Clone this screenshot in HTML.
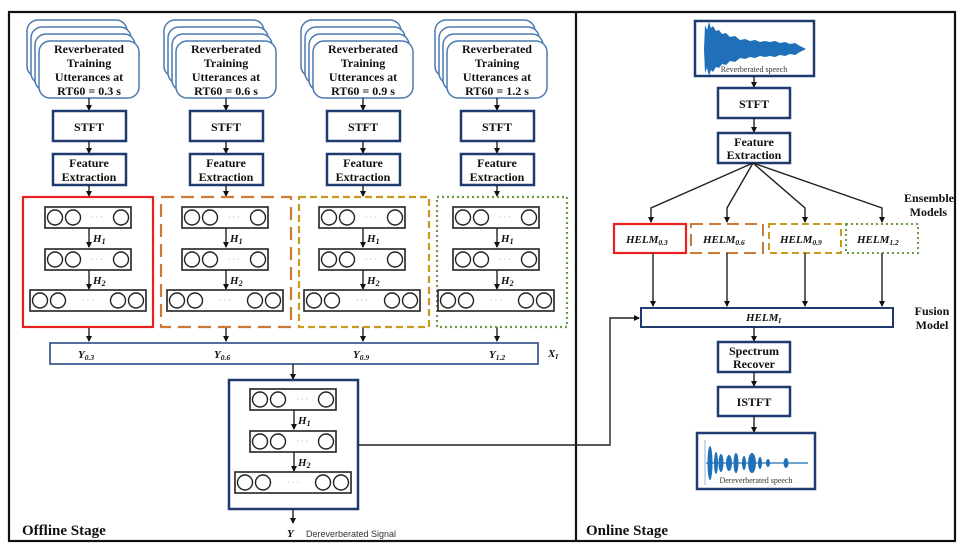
<!DOCTYPE html>
<html><head><meta charset="utf-8"><style>
html,body{margin:0;padding:0;background:#fff;width:966px;height:550px;overflow:hidden}
svg{display:block}
.b{font-family:"Liberation Serif",serif;font-weight:bold;font-size:12px;fill:#111;text-anchor:middle}
.m{font-family:"Liberation Serif",serif;font-weight:bold;font-style:italic;font-size:11px;fill:#111}
.bx{fill:#fff;stroke:#1f3a6e;stroke-width:2.5}
.ly{fill:#fff;stroke:#222;stroke-width:1.6}
.c{fill:#fff;stroke:#222;stroke-width:1.4}
.ln{stroke:#222;stroke-width:1.4;fill:none}
</style></head><body>
<svg width="966" height="550" viewBox="0 0 966 550" xmlns="http://www.w3.org/2000/svg">
<defs>
<marker id="a" markerWidth="6" markerHeight="6" refX="5" refY="3" orient="auto" markerUnits="userSpaceOnUse"><path d="M0,0 L6,3 L0,6 z" fill="#111"/></marker>
<g id="net">
 <rect class="ly" x="45" y="207" width="86" height="21"/>
 <circle class="c" cx="55" cy="217.5" r="7.5"/><circle class="c" cx="73" cy="217.5" r="7.5"/><circle class="c" cx="121" cy="217.5" r="7.5"/>
 <text x="97" y="220" font-size="8" fill="#999" text-anchor="middle">· · ·</text>
 <line class="ln" x1="89" y1="228" x2="89" y2="247" marker-end="url(#a)"/>
 <rect class="ly" x="45" y="249" width="86" height="21"/>
 <circle class="c" cx="55" cy="259.5" r="7.5"/><circle class="c" cx="73" cy="259.5" r="7.5"/><circle class="c" cx="121" cy="259.5" r="7.5"/>
 <text x="97" y="262" font-size="8" fill="#999" text-anchor="middle">· · ·</text>
 <line class="ln" x1="89" y1="270" x2="89" y2="289" marker-end="url(#a)"/>
 <rect class="ly" x="30" y="290" width="116" height="21"/>
 <circle class="c" cx="40" cy="300.5" r="7.5"/><circle class="c" cx="58" cy="300.5" r="7.5"/><circle class="c" cx="118" cy="300.5" r="7.5"/><circle class="c" cx="136" cy="300.5" r="7.5"/>
 <text x="88" y="303" font-size="8" fill="#999" text-anchor="middle">· · ·</text>
</g>
<g id="stk">
 <rect x="27" y="20" width="100" height="57" rx="11" fill="#fff" stroke="#4a7ab0" stroke-width="1.5"/>
 <rect x="31" y="27" width="100" height="57" rx="11" fill="#fff" stroke="#4a7ab0" stroke-width="1.5"/>
 <rect x="35" y="34" width="100" height="57" rx="11" fill="#fff" stroke="#4a7ab0" stroke-width="1.5"/>
 <rect x="39" y="41" width="100" height="57" rx="11" fill="#fff" stroke="#4a7ab0" stroke-width="1.5"/>
 <line class="ln" x1="89" y1="98" x2="89" y2="110" marker-end="url(#a)"/>
 <rect class="bx" x="53" y="111" width="73" height="30"/>
 <line class="ln" x1="89" y1="141" x2="89" y2="153" marker-end="url(#a)"/>
 <rect class="bx" x="53" y="154" width="73" height="31"/>
 <line class="ln" x1="89" y1="185" x2="89" y2="196" marker-end="url(#a)"/>
 <line class="ln" x1="89" y1="327" x2="89" y2="341" marker-end="url(#a)"/>
</g>
</defs>

<rect x="9" y="12" width="946" height="529" fill="none" stroke="#111" stroke-width="2.2"/>
<line x1="576" y1="12" x2="576" y2="541" stroke="#111" stroke-width="2.2"/>

<use href="#stk"/><use href="#stk" x="137"/><use href="#stk" x="274"/><use href="#stk" x="408"/>
<g class="b">
<text x="89" y="53">Reverberated</text><text x="89" y="67">Training</text><text x="89" y="81">Utterances at</text><text x="89" y="95">RT60 = 0.3 s</text>
<text x="226" y="53">Reverberated</text><text x="226" y="67">Training</text><text x="226" y="81">Utterances at</text><text x="226" y="95">RT60 = 0.6 s</text>
<text x="363" y="53">Reverberated</text><text x="363" y="67">Training</text><text x="363" y="81">Utterances at</text><text x="363" y="95">RT60 = 0.9 s</text>
<text x="497" y="53">Reverberated</text><text x="497" y="67">Training</text><text x="497" y="81">Utterances at</text><text x="497" y="95">RT60 = 1.2 s</text>
<text x="89" y="131">STFT</text><text x="226" y="131">STFT</text><text x="363" y="131">STFT</text><text x="497" y="131">STFT</text>
<text x="89" y="167">Feature</text><text x="89" y="181">Extraction</text>
<text x="226" y="167">Feature</text><text x="226" y="181">Extraction</text>
<text x="363" y="167">Feature</text><text x="363" y="181">Extraction</text>
<text x="497" y="167">Feature</text><text x="497" y="181">Extraction</text>
</g>

<rect x="23" y="197" width="130" height="130" fill="none" stroke="#e8201f" stroke-width="2.2"/>
<rect x="161" y="197" width="130" height="130" fill="none" stroke="#cf7a34" stroke-width="2.2" stroke-dasharray="13,7"/>
<rect x="299" y="197" width="130" height="130" fill="none" stroke="#c99a1d" stroke-width="2.2" stroke-dasharray="7,4"/>
<rect x="437" y="197" width="130" height="130" fill="none" stroke="#6a9a45" stroke-width="2.2" stroke-dasharray="2,3"/>
<use href="#net"/><use href="#net" x="137"/><use href="#net" x="274"/><use href="#net" x="408"/>
<g class="m">
<text x="93" y="242">H<tspan font-size="8" dy="2">1</tspan></text><text x="93" y="284">H<tspan font-size="8" dy="2">2</tspan></text>
<text x="230" y="242">H<tspan font-size="8" dy="2">1</tspan></text><text x="230" y="284">H<tspan font-size="8" dy="2">2</tspan></text>
<text x="367" y="242">H<tspan font-size="8" dy="2">1</tspan></text><text x="367" y="284">H<tspan font-size="8" dy="2">2</tspan></text>
<text x="501" y="242">H<tspan font-size="8" dy="2">1</tspan></text><text x="501" y="284">H<tspan font-size="8" dy="2">2</tspan></text>
</g>

<rect x="50" y="343" width="488" height="21" fill="#fff" stroke="#2a4a86" stroke-width="1.6"/>
<g class="m">
<text x="78" y="358">Y<tspan font-size="7.5" dy="2">0.3</tspan></text>
<text x="214" y="358">Y<tspan font-size="7.5" dy="2">0.6</tspan></text>
<text x="353" y="358">Y<tspan font-size="7.5" dy="2">0.9</tspan></text>
<text x="489" y="358">Y<tspan font-size="7.5" dy="2">1.2</tspan></text>
<text x="548" y="357">X<tspan font-size="7" dy="2">I</tspan></text>
</g>
<line class="ln" x1="293" y1="364" x2="293" y2="379" marker-end="url(#a)"/>

<rect class="bx" x="229" y="380" width="129" height="129"/>
<g transform="translate(205,182)"><use href="#net"/></g>
<g class="m">
<text x="298" y="424">H<tspan font-size="8" dy="2">1</tspan></text><text x="298" y="466">H<tspan font-size="8" dy="2">2</tspan></text>
<text x="287" y="537">Y</text>
</g>
<line class="ln" x1="293" y1="509" x2="293" y2="523" marker-end="url(#a)"/>
<text x="306" y="537" font-family="Liberation Sans,sans-serif" font-size="9" fill="#333">Dereverberated Signal</text>
<polyline class="ln" points="358,445 610,445 610,318 639,318" marker-end="url(#a)"/>

<text x="22" y="535" font-family="Liberation Serif,serif" font-weight="bold" font-size="15" fill="#111">Offline Stage</text>
<text x="586" y="535" font-family="Liberation Serif,serif" font-weight="bold" font-size="15" fill="#111">Online Stage</text>

<!-- online -->
<rect class="bx" x="695" y="21" width="119" height="55"/>
<path d="M704,49 L705,25 L707,30 L709,22 L711,28 L713,26 L716,31 L719,30 L722,34 L726,33 L730,37 L735,36 L740,40 L745,39 L750,41 L755,40 L760,42 L765,41 L770,42 L775,41 L780,43 L785,42 L790,44 L795,43 L800,46 L806,49 L800,52 L795,55 L790,54 L785,56 L780,55 L775,57 L770,56 L765,57 L760,56 L755,58 L750,57 L745,59 L740,58 L735,62 L730,61 L726,65 L722,64 L719,68 L716,67 L713,72 L711,70 L709,76 L707,68 L705,73 Z" fill="#1f70b8"/>
<text x="754" y="72" font-family="Liberation Serif,serif" font-size="8" fill="#333" text-anchor="middle">Reverberated speech</text>
<line class="ln" x1="754" y1="76" x2="754" y2="87" marker-end="url(#a)"/>
<rect class="bx" x="718" y="88" width="72" height="30"/>
<line class="ln" x1="754" y1="118" x2="754" y2="132" marker-end="url(#a)"/>
<rect class="bx" x="718" y="133" width="72" height="30"/>
<polyline class="ln" points="753,163 651,208 651,222" marker-end="url(#a)"/>
<polyline class="ln" points="753,163 727,208 727,222" marker-end="url(#a)"/>
<polyline class="ln" points="753,163 805,208 805,222" marker-end="url(#a)"/>
<polyline class="ln" points="753,163 882,208 882,222" marker-end="url(#a)"/>
<text x="954" y="202" class="b" style="text-anchor:end">Ensemble</text>
<text x="947" y="216" class="b" style="text-anchor:end">Models</text>

<rect x="614" y="224" width="72" height="29" fill="#fff" stroke="#e8201f" stroke-width="2.2"/>
<rect x="691" y="224" width="72" height="29" fill="#fff" stroke="#cf7a34" stroke-width="2" stroke-dasharray="12,6"/>
<rect x="769" y="224" width="72" height="29" fill="#fff" stroke="#c99a1d" stroke-width="2" stroke-dasharray="7,4"/>
<rect x="846" y="224" width="72" height="29" fill="#fff" stroke="#6a9a45" stroke-width="2" stroke-dasharray="2,3"/>
<g class="m">
<text x="626" y="243">HELM<tspan font-size="7.5" dy="2">0.3</tspan></text>
<text x="703" y="243">HELM<tspan font-size="7.5" dy="2">0.6</tspan></text>
<text x="780" y="243">HELM<tspan font-size="7.5" dy="2">0.9</tspan></text>
<text x="857" y="243">HELM<tspan font-size="7.5" dy="2">1.2</tspan></text>
</g>
<line class="ln" x1="653" y1="253" x2="653" y2="306" marker-end="url(#a)"/>
<line class="ln" x1="727" y1="253" x2="727" y2="306" marker-end="url(#a)"/>
<line class="ln" x1="805" y1="253" x2="805" y2="306" marker-end="url(#a)"/>
<line class="ln" x1="882" y1="253" x2="882" y2="306" marker-end="url(#a)"/>
<rect x="641" y="308" width="252" height="19" fill="#fff" stroke="#1f3a6e" stroke-width="2"/>
<text x="746" y="321" class="m">HELM<tspan font-size="7" dy="2">I</tspan></text>
<text x="932" y="315" class="b">Fusion</text><text x="932" y="329" class="b">Model</text>
<line class="ln" x1="754" y1="327" x2="754" y2="341" marker-end="url(#a)"/>
<rect class="bx" x="718" y="342" width="72" height="30"/>
<line class="ln" x1="754" y1="372" x2="754" y2="386" marker-end="url(#a)"/>
<rect class="bx" x="718" y="387" width="72" height="29"/>
<line class="ln" x1="754" y1="416" x2="754" y2="432" marker-end="url(#a)"/>
<rect class="bx" x="697" y="433" width="118" height="56"/>
<g class="b"><text x="754" y="108">STFT</text><text x="754" y="146">Feature</text><text x="754" y="159">Extraction</text>
<text x="754" y="355">Spectrum</text><text x="754" y="368">Recover</text><text x="754" y="406">ISTFT</text></g>
<line x1="705" y1="440" x2="705" y2="485" stroke="#8fb5dc" stroke-width="1"/>
<line x1="706" y1="463" x2="808" y2="463" stroke="#1f70b8" stroke-width="1.2"/>
<g fill="#1f70b8">
<ellipse cx="710" cy="463" rx="2.5" ry="17"/><ellipse cx="716" cy="463" rx="2" ry="11"/>
<ellipse cx="721" cy="463" rx="2.5" ry="9"/><ellipse cx="729" cy="463" rx="3" ry="8"/>
<ellipse cx="736" cy="463" rx="2.5" ry="10"/><ellipse cx="744" cy="463" rx="2" ry="7"/>
<ellipse cx="752" cy="463" rx="4" ry="10"/><ellipse cx="760" cy="463" rx="2" ry="6"/>
<ellipse cx="768" cy="463" rx="2" ry="4"/><ellipse cx="786" cy="463" rx="2.5" ry="5"/>
</g>
<text x="756" y="483" font-family="Liberation Serif,serif" font-size="8" fill="#333" text-anchor="middle">Dereverberated speech</text>
</svg>
</body></html>
